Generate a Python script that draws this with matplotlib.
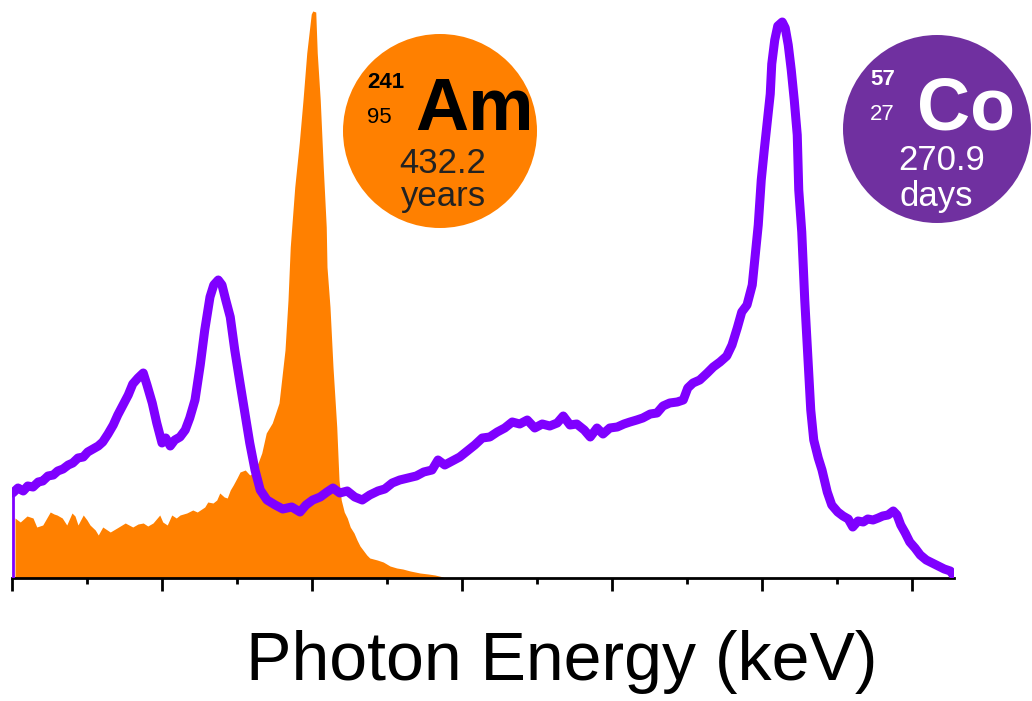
import numpy as np
import matplotlib
matplotlib.use("Agg")
import matplotlib.pyplot as plt
from matplotlib.patches import Ellipse
from matplotlib.ticker import MultipleLocator, NullFormatter

plt.rcParams['font.family'] = ['Liberation Sans', 'DejaVu Sans']

# Co-57 spectrum (purple line), energy in keV, counts in arbitrary units
co_energy = [20.1, 20.8, 21.5, 22.1, 22.8, 23.5, 24.1, 24.8, 25.5, 26.1,
             26.8, 27.5, 28.1, 28.8, 29.5, 30.1, 30.8, 31.5, 32.1, 32.8,
             33.5, 34.1, 34.8, 35.5, 36.1, 36.8, 37.5, 38.0, 38.7, 39.3,
             40.0, 40.5, 41.1, 41.7, 42.4, 43.1, 43.7, 44.4, 45.1, 45.7,
             46.4, 46.9, 47.5, 48.0, 48.5, 49.1, 49.7, 50.4, 51.1, 51.7,
             52.4, 53.1, 54.0, 55.1, 56.1, 57.3, 58.4, 59.2, 60.1, 61.1,
             62.0, 62.8, 63.7, 64.7, 65.7, 66.7, 67.7, 68.8, 69.7, 70.7,
             71.7, 72.8, 73.9, 74.9, 76.0, 76.8, 77.7, 78.7, 79.7, 80.7,
             81.7, 82.7, 83.7, 84.7, 85.7, 86.7, 87.7, 88.7, 89.7, 90.7,
             91.7, 92.7, 93.5, 94.4, 95.3, 96.3, 97.1, 98.0, 98.8, 99.7,
             100.7, 101.6, 102.4, 103.3, 104.1, 105.1, 106.0, 106.8, 107.7, 108.7,
             109.5, 110.1, 110.8, 111.7, 112.7, 113.5, 114.4, 115.3, 116.0, 116.7,
             117.3, 118.0, 118.7, 119.1, 119.5, 119.9, 120.3, 120.7, 121.1, 121.3,
             121.7, 122.1, 122.7, 123.1, 123.5, 123.9, 124.3, 124.7, 124.9, 125.3,
             125.7, 126.1, 126.5, 126.9, 127.5, 128.0, 128.7, 129.3, 130.1, 130.8,
             131.5, 132.1, 132.8, 133.5, 134.1, 134.8, 135.5, 136.1, 136.8, 137.5,
             138.0, 138.5, 139.1, 139.7, 140.4, 141.1, 141.9, 142.7, 143.5, 144.3,
             145.1, 145.5]
co_counts = [85, 90, 87, 92, 91, 96, 97, 102, 103, 107,
             109, 113, 115, 120, 121, 126, 129, 132, 136, 144,
             153, 163, 173, 183, 194, 200, 205, 193, 175, 155,
             135, 140, 132, 138, 141, 148, 160, 178, 213, 248,
             281, 293, 298, 293, 278, 261, 228, 195, 163, 135,
             108, 88, 78, 73, 69, 71, 66, 73, 78, 81,
             86, 90, 85, 87, 81, 78, 83, 87, 89, 95,
             98, 100, 102, 106, 108, 118, 113, 117, 121, 127,
             133, 140, 141, 146, 150, 156, 154, 158, 150, 154,
             152, 155, 162, 153, 154, 148, 141, 150, 144, 150,
             151, 154, 156, 158, 160, 164, 165, 172, 175, 176,
             178, 190, 195, 198, 205, 211, 216, 222, 233, 250,
             266, 273, 293, 323, 353, 398, 428, 456, 484, 514,
             538, 552, 556, 550, 533, 508, 478, 443, 388, 346,
             278, 222, 168, 138, 120, 108, 86, 73, 66, 62,
             59, 51, 57, 56, 59, 58, 60, 62, 63, 67,
             63, 53, 45, 36, 30, 23, 18, 15, 12, 9,
             7, 3]

# Am-241 spectrum (orange filled histogram)
am_energy = [20.4, 21.1, 22.0, 22.8, 23.3, 24.1, 25.1, 25.6, 26.0, 26.7,
             27.3, 28.0, 28.4, 28.8, 29.5, 30.0, 30.4, 31.1, 31.5, 32.1,
             33.1, 34.0, 35.1, 36.1, 36.8, 37.5, 38.1, 38.8, 39.7, 40.1,
             40.7, 41.3, 41.9, 42.4, 43.3, 44.1, 44.7, 45.1, 45.7, 46.1,
             46.8, 47.3, 47.7, 48.3, 48.7, 49.1, 49.5, 50.0, 50.4, 51.1,
             51.7, 52.1, 52.5, 52.8, 53.3, 53.9, 54.7, 55.6, 56.4, 56.8,
             57.1, 57.7, 58.3, 58.8, 59.3, 59.9, 60.1, 60.5, 60.7, 61.1,
             61.5, 61.9, 62.0, 62.4, 62.8, 63.3, 63.6, 63.9, 64.3, 64.7,
             65.1, 65.6, 66.0, 66.4, 66.8, 67.3, 67.7, 68.7, 69.5, 70.4,
             71.3, 72.1, 73.1, 74.4, 75.5, 76.4, 77.5]
am_counts = [60, 56, 62, 60, 51, 53, 66, 64, 63, 60,
             53, 65, 62, 53, 63, 58, 53, 48, 43, 51,
             46, 50, 55, 51, 54, 55, 52, 55, 63, 56,
             53, 63, 60, 63, 65, 68, 66, 68, 71, 76,
             75, 78, 85, 81, 80, 88, 93, 100, 106, 108,
             103, 105, 112, 115, 125, 145, 155, 175, 228, 278,
             331, 391, 435, 478, 525, 564, 567, 566, 525, 478,
             411, 351, 311, 271, 211, 151, 98, 78, 66, 60,
             51, 45, 38, 32, 28, 23, 20, 18, 16, 12,
             10, 9, 7, 5, 4, 3, 1]

purple = '#7F00FF'
orange = '#FF8000'
co_badge = '#7030A0'

W, H = 1032, 701
fig = plt.figure(figsize=(W / 100, H / 100), dpi=100)
ax = fig.add_axes([12 / W, 123 / H, 942 / W, 578 / H])

ax.fill_between(am_energy, am_counts, 0, color=orange, lw=0, zorder=2)
ax.vlines(co_energy[0], 0, co_counts[0], color=purple, lw=2, zorder=3)
ax.plot(co_energy, co_counts, color=purple, lw=6.5, solid_joinstyle='round',
        solid_capstyle='round', zorder=4)

ax.set_xlim(20, 145.6)
ax.set_ylim(0, 578)
for s in ['left', 'right', 'top']:
    ax.spines[s].set_visible(False)
ax.spines['bottom'].set_linewidth(2)
ax.set_yticks([])
ax.xaxis.set_major_locator(MultipleLocator(20))
ax.xaxis.set_minor_locator(MultipleLocator(10))
ax.xaxis.set_major_formatter(NullFormatter())
ax.tick_params(axis='x', which='major', direction='out', length=9, width=2)
ax.tick_params(axis='x', which='minor', direction='out', length=4.5, width=2)
ax.patch.set_alpha(0)

fig.text(562 / W, 1 - 680 / H, 'Photon Energy (keV)', fontsize=49,
         ha='center', va='baseline', color='black')


def badge(cx, cy, r, color):
    fig.add_artist(Ellipse((cx / W, 1 - cy / H), 2 * r / W, 2 * r / H,
                           transform=fig.transFigure, color=color, lw=0, zorder=5))


def txt(x, y, s, size, color, weight='normal', ha='left'):
    fig.text(x / W, 1 - y / H, s, fontsize=size, color=color, fontweight=weight,
             ha=ha, va='baseline', zorder=6)


badge(440, 131, 97, orange)
txt(367, 88, '241', 16, 'black', 'bold')
txt(367, 123, '95', 16, 'black')
txt(415, 130, 'Am', 53, 'black', 'bold')
txt(443, 173, '432.2', 25, '#222222', ha='center')
txt(443, 206, 'years', 25, '#222222', ha='center')

badge(937, 129, 94, co_badge)
txt(870, 85, '57', 16, 'white', 'bold')
txt(870, 120, '27', 16, 'white')
txt(917, 130, 'Co', 53, 'white', 'bold')
txt(942, 170, '270.9', 25, 'white', ha='center')
txt(936, 206, 'days', 25, 'white', ha='center')

fig.savefig('out.png', dpi=100)
